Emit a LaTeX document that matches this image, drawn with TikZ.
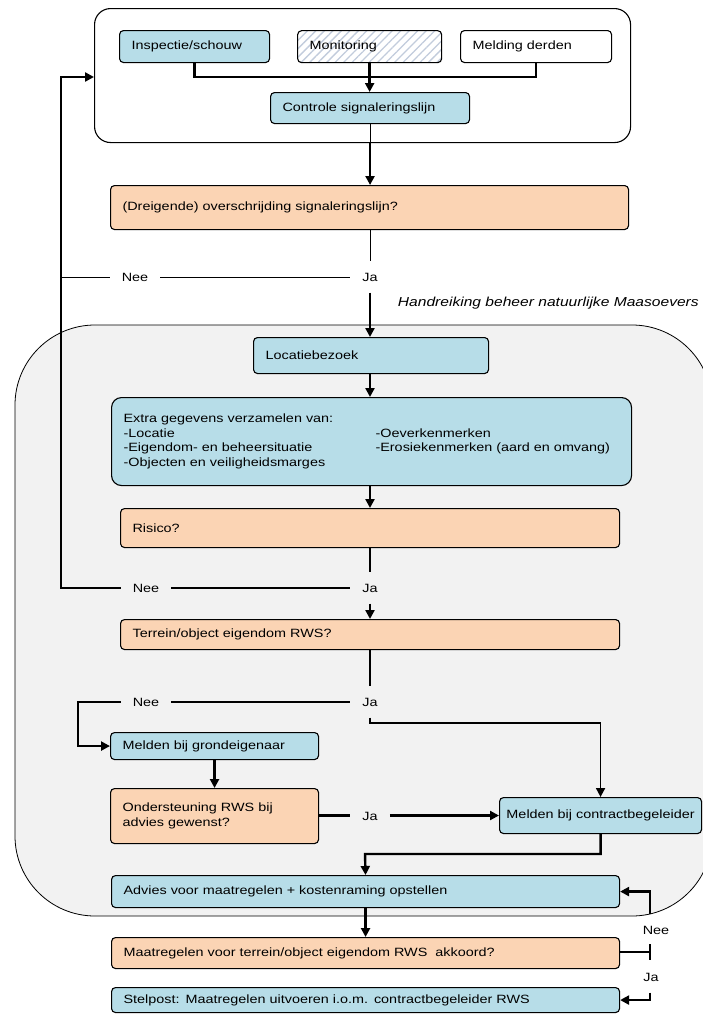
\documentclass[tikz,border=0pt]{standalone}
\usepackage{fontspec}
\setmainfont{Liberation Sans}[FakeStretch=1.2]
\usetikzlibrary{arrows.meta,patterns.meta}
\definecolor{boxblue}{HTML}{B7DDE8}
\definecolor{boxorange}{HTML}{FBD4B4}
\definecolor{regiongray}{HTML}{F2F2F2}
\definecolor{hatchcol}{HTML}{C2CCDC}
\begin{document}
\begin{tikzpicture}[x=1pt,y=-1pt,
  font=\fontsize{12}{14.5}\selectfont,
  box/.style={draw=black, line width=1.1pt, rounded corners=4pt, anchor=north west, inner xsep=12pt, inner ysep=2pt, align=left},
  bluebox/.style={box, fill=boxblue},
  orangebox/.style={box, fill=boxorange},
  sz/.style n args={3}{minimum width=#1, text width=#2, minimum height=#3},
  lbl/.style={inner xsep=12pt, inner ysep=11pt, text height=9pt, text depth=0pt},
  arr/.style={-{Triangle[length=9pt,width=9pt]}},
  thinline/.style={line width=1pt},
  medline/.style={line width=1.8pt},
  thickline/.style={line width=2.4pt},
  region/.style={draw=black, line width=0.8pt, fill=regiongray, rounded corners=80pt}
]
\useasboundingbox (0,0) rectangle (702,1017);

% background region
\draw[region] (15,325) rectangle (712,916);

% top container
\node[draw=black, line width=1.1pt, fill=white, rounded corners=16pt, anchor=north west,
      minimum width=536pt, minimum height=134pt, inner sep=0pt] (topbox) at (94,8) {};

\node[bluebox, sz={150pt}{126pt}{32pt}] (insp) at (119,30) {Inspectie/schouw};
\node[box, fill=white, pattern={Lines[angle=45,distance=6pt,line width=1.3pt]}, pattern color=hatchcol,
      sz={144pt}{120pt}{32pt}] (mon) at (297,30) {Monitoring};
\node[box, fill=white, sz={151pt}{127pt}{32pt}] (meld) at (460,30) {Melding derden};
\node[bluebox, sz={199pt}{175pt}{31pt}] (ctrl) at (270,92) {Controle signaleringslijn};

\node[orangebox, sz={518pt}{494pt}{44pt}] (dreig) at (110,185) {(Dreigende) overschrijding signaleringslijn?};

\node[lbl] (nee1) at (135,277) {Nee};
\node[lbl] (ja1) at (370,277) {Ja};

\node[anchor=east, inner sep=0pt, font=\fontsize{13}{15}\selectfont\itshape] (hand) at (699,303) {Handreiking beheer natuurlijke Maasoevers};

\node[bluebox, sz={235pt}{211pt}{36pt}] (loc) at (253,337) {Locatiebezoek};
\node[bluebox, rounded corners=10pt, sz={520pt}{496pt}{88pt}] (extra) at (111,397)
  {Extra gegevens verzamelen van:\\
   \makebox[252pt][l]{-Locatie}-Oeverkenmerken\\
   \makebox[252pt][l]{-Eigendom- en beheersituatie}-Erosiekenmerken (aard en omvang)\\
   -Objecten en veiligheidsmarges};
\node[orangebox, sz={499pt}{475pt}{39pt}] (risico) at (120,508) {Risico?};

\node[lbl] (nee2) at (146,588) {Nee};
\node[lbl] (ja2) at (370,588) {Ja};

\node[orangebox, sz={499pt}{475pt}{30pt}] (terrein) at (120,619) {Terrein/object eigendom RWS?};

\node[lbl] (nee3) at (146,702) {Nee};
\node[lbl] (ja3) at (370,702) {Ja};

\node[bluebox, sz={208pt}{184pt}{27pt}] (grond) at (110,732) {Melden bij grondeigenaar};
\node[orangebox, sz={208pt}{184pt}{55pt}] (ond) at (110,788) {Ondersteuning RWS bij\\advies gewenst?};
\node[lbl] (ja4) at (370,815.5) {Ja};
\node[bluebox, minimum width=202pt, minimum height=36pt, inner xsep=6pt] (contract) at (499,797) {Melden bij contractbegeleider};

\node[bluebox, sz={508pt}{484pt}{32pt}] (advies) at (111,875) {Advies voor maatregelen + kostenraming opstellen};
\node[orangebox, sz={508pt}{484pt}{31pt}] (maat) at (111,937) {Maatregelen voor terrein/object eigendom RWS~ akkoord?};
\node[bluebox, sz={508pt}{484pt}{25pt}] (stel) at (111,987) {Stelpost: Maatregelen uitvoeren i.o.m. contractbegeleider RWS};

\node[lbl] (nee5) at (656,930) {Nee};
\node[lbl] (ja5) at (651,977) {Ja};

% coordinates
\coordinate (hub) at (369,77);
\coordinate (lptop) at (61,77);
\coordinate (nb) at (78,702);
\coordinate (jb) at (370,723);
\coordinate (jc) at (365,854);
\coordinate (barc) at (650,952);

% connectors top
\draw[thickline] (insp.south) |- (hub) -| (meld.south);
\draw[thickline,arr] (mon.south) -- (mon.south |- ctrl.north);
\draw[thinline] (ctrl.south) -- (ctrl.south |- topbox.south);
\draw[thickline,arr] (ctrl.south |- topbox.south) -- (ctrl.south |- dreig.north);
\draw[thinline] (ja1.north |- dreig.south) -- (ja1.north);
\draw[thinline] (nee1.east) -- (ja1.west);
\draw[thinline] (nee1.west) -- (nee1.west -| lptop);
\draw[thickline,arr] (ja1.south) -- (ja1.south |- loc.north);

% middle
\draw[thickline,arr] (loc.south -| ja1) -- (extra.north -| ja1);
\draw[thickline,arr] (extra.south -| ja1) -- (risico.north -| ja1);
\draw[thickline] (ja2.north |- risico.south) -- (ja2.north);
\draw[medline] (nee2.east) -- (ja2.west);
\draw[thickline,arr] (nee2.west) -| (lptop) -- (topbox.west |- lptop);
\draw[thickline,arr] (ja2.south) -- (ja2.south |- terrein.north);

\draw[thickline] (ja3.north |- terrein.south) -- (ja3.north);
\draw[thickline] (nee3.east) -- (ja3.west);
\draw[thickline,arr] (nee3.west) -- (nb) |- (grond.west);
\draw[medline,arr] (ja3.south) -- (jb) -| (contract.north);
\draw[thickline,arr] (grond.south) -- (grond.south |- ond.north);
\draw[thickline] (ond.east |- ja4) -- (ja4.west);
\draw[thickline,arr] (ja4.east) -- (contract.west |- ja4);
\draw[thickline,arr] (contract.south) |- (jc) -- (advies.north);
\draw[thickline,arr] (advies.south) -- (maat.north -| advies.south);

% right loop
\draw[thickline] (maat.east |- barc) -- (barc);
\draw[thickline] ([yshift=8pt]barc) -- ([yshift=-8pt]barc);
\draw[thickline,arr] (nee5.north -| barc) |- (advies.east);
\draw[thickline,arr] (ja5.south -| barc) |- (stel.east);
\end{tikzpicture}
\end{document}
